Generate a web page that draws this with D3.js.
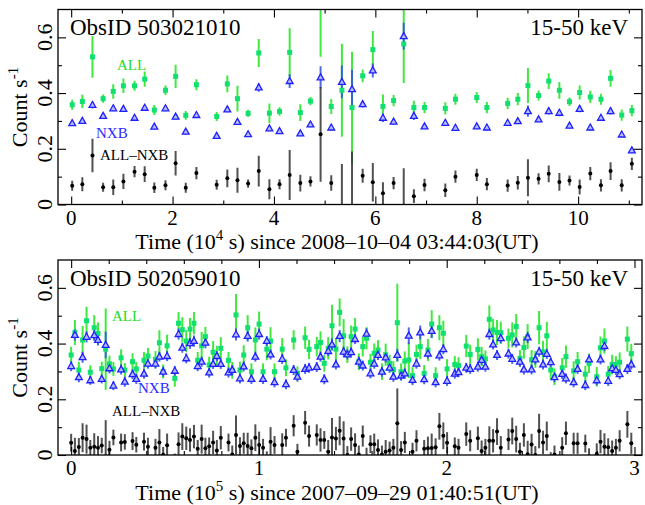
<!DOCTYPE html>
<html>
<head>
<meta charset="utf-8">
<script src="https://cdn.jsdelivr.net/npm/d3@7"></script>
<style>
  body { margin: 0; background: #fff; }
  svg { display: block; }
  text { font-family: "Liberation Serif", "Times New Roman", serif; }
</style>
</head>
<body>
<svg id="chart" width="645" height="505"></svg>
<script>
// ---------- ObsID 503021010 (time in 1e4 s) ----------
const time1 = [0.02,0.22,0.42,0.63,0.83,1.03,1.25,1.45,1.64,1.86,2.06,2.26,2.47,2.87,3.08,3.28,3.49,
  3.70,3.91,4.11,4.31,4.52,4.72,4.92,5.13,5.34,5.54,5.75,5.95,6.15,6.36,6.56,6.76,6.97,7.38,
  7.58,8.00,8.20,8.61,8.81,9.01,9.22,9.42,9.63,9.83,10.03,10.24,10.45,10.64,10.86,11.06];
const all1 = [0.358,0.37,0.53,0.38,0.406,0.426,0.426,0.45,0.339,0.41,0.46,0.32,0.43,0.316,0.433,0.38,0.327,
  0.544,0.328,0.334,0.546,0.33,0.371,0.708,0.352,0.41,0.348,0.462,0.556,0.352,0.373,0.576,0.348,0.348,0.345,
  0.378,0.384,0.348,0.363,0.378,0.427,0.391,0.443,0.41,0.369,0.402,0.386,0.378,0.453,0.321,0.337];
const allErr1 = [0.018,0.024,0.075,0.015,0.026,0.026,0.018,0.027,0.018,0.017,0.042,0.016,0.02,0.016,0.03,0.046,0.013,
  0.05,0.035,0.015,0.087,0.03,0.015,0.178,0.027,0.167,0.2,0.023,0.067,0.043,0.02,0.14,0.024,0.02,0.022,
  0.02,0.02,0.02,0.02,0.022,0.063,0.018,0.028,0.03,0.015,0.025,0.022,0.02,0.03,0.02,0.02];
const nxb1 = [0.292,0.30,0.357,0.318,0.345,0.343,0.311,0.347,0.279,0.345,0.315,0.261,0.321,0.246,0.341,0.296,0.252,
  0.42,0.273,0.263,0.443,0.255,0.287,0.456,0.276,0.44,0.414,0.36,0.481,0.311,0.297,0.604,0.318,0.28,0.293,
  0.275,0.28,0.276,0.293,0.299,0.335,0.305,0.335,0.329,0.283,0.343,0.276,0.311,0.335,0.251,0.194];
const nxbErr1 = [0.01,0.01,0.012,0.01,0.01,0.01,0.01,0.01,0.01,0.01,0.01,0.01,0.01,0.01,0.01,0.01,0.01,
  0.015,0.01,0.01,0.025,0.01,0.01,0.04,0.01,0.059,0.07,0.012,0.025,0.015,0.01,0.048,0.015,0.01,0.01,
  0.01,0.01,0.01,0.01,0.01,0.02,0.01,0.012,0.012,0.01,0.012,0.01,0.01,0.012,0.01,0.01];
const net1 = [0.067,0.073,0.176,0.062,0.062,0.083,0.118,0.109,0.06,0.069,0.148,0.06,0.113,0.071,0.094,0.087,0.075,
  0.12,0.055,0.073,0.106,0.077,0.083,0.252,0.077,-0.03,-0.066,0.103,0.08,0.04,0.077,-0.03,0.03,0.07,0.051,
  0.1,0.106,0.073,0.068,0.078,0.096,0.092,0.11,0.081,0.086,0.063,0.111,0.069,0.12,0.069,0.146];
const netErr1 = [0.018,0.025,0.06,0.016,0.028,0.027,0.02,0.028,0.019,0.018,0.044,0.018,0.022,0.018,0.032,0.045,0.015,
  0.055,0.036,0.018,0.09,0.03,0.018,0.17,0.028,0.175,0.256,0.025,0.069,0.04,0.022,0.16,0.025,0.022,0.024,
  0.022,0.022,0.022,0.022,0.024,0.066,0.02,0.03,0.032,0.018,0.027,0.024,0.022,0.032,0.022,0.022];

// ---------- ObsID 502059010 (time in 1e5 s) ----------
const time2 = [0.000,0.020,0.041,0.061,0.082,0.102,0.123,0.143,0.163,0.184,0.204,0.225,
  0.266,0.286,0.327,0.347,0.388,0.409,0.449,0.470,0.490,0.511,
  0.552,0.572,0.592,0.613,0.633,0.654,0.674,0.695,0.715,0.735,0.756,0.776,0.797,
  0.838,0.858,0.878,0.899,0.919,0.940,0.960,0.981,1.001,1.022,1.042,1.062,1.083,
  1.124,1.144,1.185,1.205,1.246,1.267,
  1.308,1.328,1.348,1.369,1.389,1.410,1.430,1.451,1.471,1.491,1.512,1.532,1.553,1.573,1.594,1.614,1.634,1.655,
  1.675,1.696,1.716,1.737,1.757,1.777,1.798,1.818,1.839,1.859,1.880,1.900,1.920,1.941,1.961,1.982,2.002,
  2.043,2.063,2.104,2.125,2.166,2.186,2.206,2.227,2.247,2.268,2.288,
  2.329,2.349,2.370,2.390,2.411,2.431,2.452,2.472,2.492,2.513,2.533,2.554,2.574,
  2.615,2.635,2.676,2.697,2.738,2.758,2.799,2.819,2.840,2.860,2.881,2.901,2.921,2.962,2.983];
const all2 = [0.359,0.44,0.305,0.413,0.482,0.297,0.457,0.436,0.31,0.38,0.327,0.309,
  0.349,0.305,0.335,0.309,0.34,0.355,0.343,0.403,0.30,0.392,
  0.275,0.473,0.45,0.409,0.452,0.473,0.34,0.392,0.425,0.323,0.369,0.357,0.383,
  0.34,0.304,0.503,0.305,0.359,0.457,0.299,0.413,0.47,0.299,0.38,0.409,0.299,
  0.38,0.313,0.413,0.293,0.421,0.379,
  0.389,0.404,0.329,0.383,0.464,0.38,0.512,0.428,0.36,0.425,0.452,0.335,0.389,0.419,0.333,0.365,0.377,0.299,
  0.36,0.329,0.307,0.475,0.299,0.337,0.341,0.285,0.361,0.389,0.293,0.377,0.47,0.285,0.457,0.437,0.309,
  0.325,0.321,0.391,0.361,0.379,0.353,0.345,0.487,0.449,0.44,0.439,
  0.419,0.431,0.461,0.347,0.386,0.425,0.342,0.343,0.457,0.37,0.428,0.305,0.281,
  0.313,0.353,0.302,0.335,0.29,0.329,0.281,0.385,0.409,0.29,0.325,0.325,0.333,0.416,0.364];
const allErr2 = [0.03,0.045,0.03,0.05,0.05,0.025,0.045,0.04,0.025,0.146,0.03,0.025,
  0.03,0.025,0.03,0.025,0.03,0.03,0.03,0.045,0.025,0.04,
  0.03,0.04,0.045,0.04,0.04,0.04,0.03,0.05,0.035,0.03,0.04,0.035,0.04,
  0.03,0.03,0.075,0.03,0.035,0.045,0.03,0.045,0.045,0.03,0.04,0.05,0.03,
  0.04,0.03,0.035,0.025,0.04,0.035,
  0.035,0.04,0.03,0.04,0.075,0.04,0.05,0.06,0.03,0.04,0.04,0.03,0.035,0.04,0.03,0.035,0.035,0.03,
  0.04,0.03,0.03,0.14,0.03,0.035,0.065,0.03,0.035,0.045,0.03,0.04,0.05,0.03,0.045,0.045,0.035,
  0.03,0.03,0.04,0.035,0.04,0.035,0.03,0.05,0.04,0.045,0.04,
  0.035,0.045,0.045,0.03,0.04,0.045,0.035,0.03,0.06,0.04,0.05,0.035,0.03,
  0.035,0.04,0.035,0.035,0.03,0.035,0.035,0.04,0.045,0.03,0.035,0.03,0.035,0.045,0.035];
const nxb2 = [0.319,0.431,0.279,0.351,0.424,0.268,0.43,0.413,0.273,0.395,0.311,0.249,
  0.307,0.263,0.29,0.273,0.292,0.328,0.328,0.353,0.299,0.355,
  0.302,0.434,0.385,0.347,0.401,0.409,0.319,0.335,0.403,0.296,0.327,0.355,0.327,
  0.296,0.305,0.433,0.275,0.318,0.427,0.273,0.353,0.434,0.273,0.409,0.361,0.261,
  0.345,0.254,0.305,0.281,0.309,0.313,
  0.316,0.353,0.272,0.373,0.397,0.325,0.427,0.371,0.361,0.369,0.416,0.335,0.321,0.435,0.293,0.328,0.359,0.299,
  0.35,0.313,0.281,0.359,0.285,0.293,0.428,0.269,0.328,0.44,0.272,0.364,0.445,0.261,0.357,0.38,0.266,
  0.292,0.297,0.313,0.309,0.317,0.341,0.317,0.434,0.397,0.359,0.419,
  0.364,0.345,0.404,0.335,0.307,0.422,0.307,0.343,0.371,0.325,0.363,0.333,0.279,
  0.291,0.275,0.261,0.309,0.251,0.343,0.268,0.343,0.391,0.266,0.311,0.305,0.29,0.309,0.325];
const nxbErr2 = [0.018,0.02,0.018,0.02,0.02,0.016,0.02,0.02,0.016,0.048,0.018,0.016,
  0.018,0.018,0.018,0.018,0.018,0.018,0.018,0.018,0.018,0.018,
  0.018,0.02,0.018,0.018,0.02,0.02,0.018,0.018,0.02,0.018,0.018,0.018,0.018,
  0.018,0.018,0.022,0.018,0.018,0.02,0.018,0.018,0.02,0.018,0.018,0.018,0.018,
  0.018,0.018,0.018,0.018,0.018,0.018,
  0.018,0.018,0.018,0.018,0.022,0.018,0.022,0.018,0.018,0.018,0.018,0.018,0.018,0.02,0.018,0.018,0.018,0.018,
  0.018,0.018,0.018,0.022,0.018,0.018,0.03,0.018,0.018,0.025,0.018,0.018,0.025,0.018,0.018,0.018,0.018,
  0.018,0.018,0.018,0.018,0.018,0.018,0.018,0.02,0.018,0.018,0.018,
  0.018,0.018,0.018,0.018,0.018,0.02,0.018,0.018,0.018,0.018,0.018,0.018,0.018,
  0.018,0.018,0.018,0.018,0.018,0.018,0.018,0.018,0.018,0.018,0.018,0.018,0.018,0.018,0.018];
const net2 = [0.044,0.014,0.029,0.062,0.057,0.026,0.03,0.026,0.034,-0.015,0.019,0.063,
  0.045,0.047,0.05,0.037,0.048,0.03,0.026,0.045,0.001,0.035,
  -0.027,0.039,0.066,0.06,0.054,0.066,0.022,0.057,0.024,0.031,0.045,0.016,0.062,
  0.045,0.002,0.072,0.032,0.042,0.032,0.024,0.062,0.036,0.026,-0.029,0.048,0.036,
  0.036,0.062,0.105,0.012,0.116,0.068,
  0.072,0.054,0.054,0.012,0.063,0.059,0.087,0.059,0.0,0.057,0.036,0.002,0.068,-0.016,0.039,0.039,0.018,0.002,
  0.012,0.016,0.026,0.114,0.018,0.045,-0.087,0.012,0.051,-0.05,0.022,0.024,0.025,0.028,0.103,0.069,0.044,
  0.031,0.026,0.075,0.051,0.06,0.014,0.026,0.051,0.051,0.084,0.026,
  0.056,0.086,0.057,0.012,0.072,0.003,0.038,0.0,0.086,0.045,0.068,-0.028,0.002,
  0.026,0.078,0.042,0.042,0.041,-0.014,0.004,0.048,0.03,0.028,0.014,0.026,0.051,0.11,0.042];
const netErr2 = [0.032,0.048,0.032,0.052,0.052,0.028,0.048,0.042,0.028,0.14,0.032,0.028,
  0.032,0.028,0.032,0.028,0.032,0.032,0.032,0.048,0.028,0.042,
  0.032,0.042,0.048,0.042,0.042,0.042,0.032,0.052,0.038,0.032,0.042,0.038,0.042,
  0.032,0.032,0.07,0.032,0.038,0.048,0.032,0.048,0.048,0.032,0.042,0.052,0.032,
  0.042,0.032,0.038,0.028,0.042,0.038,
  0.038,0.042,0.032,0.042,0.07,0.042,0.052,0.062,0.032,0.042,0.042,0.032,0.038,0.042,0.032,0.038,0.038,0.032,
  0.042,0.032,0.032,0.125,0.032,0.038,0.07,0.032,0.038,0.048,0.032,0.042,0.052,0.032,0.048,0.048,0.038,
  0.032,0.032,0.042,0.038,0.042,0.038,0.032,0.052,0.042,0.048,0.042,
  0.038,0.048,0.048,0.032,0.042,0.048,0.038,0.032,0.062,0.042,0.052,0.038,0.032,
  0.038,0.042,0.038,0.038,0.032,0.038,0.038,0.042,0.048,0.032,0.038,0.032,0.038,0.048,0.038];

// ---------- ticks ----------
const yMajor = [0, 0.2, 0.4, 0.6];
const yMinor = [0.1, 0.3, 0.5];
const xMajor1 = [0, 2, 4, 6, 8, 10];
const xMinor1 = [1, 3, 5, 7, 9, 11];
const xMajor2 = [0, 1, 2, 3];
const xMinor2 = [0.2, 0.4, 0.6, 0.8, 1.2, 1.4, 1.6, 1.8, 2.2, 2.4, 2.6, 2.8];

const panels = [
  { top: 9.5, bottom: 204.5, xDomain: [-0.26, 11.26], xMajor: xMajor1, xMinor: xMinor1,
    time: time1, all: all1, allErr: allErr1, nxb: nxb1, nxbErr: nxbErr1, net: net1, netErr: netErr1,
    obsid: "ObsID 503021010", exp: "4", start: "2008\u201310\u201304 03:44:03(UT)",
    lab: { all: [117, 70], nxb: [96, 138], net: [100, 160] } },
  { top: 260, bottom: 455, xDomain: [-0.07, 3.04], xMajor: xMajor2, xMinor: xMinor2,
    time: time2, all: all2, allErr: allErr2, nxb: nxb2, nxbErr: nxbErr2, net: net2, netErr: netErr2,
    obsid: "ObsID 502059010", exp: "5", start: "2007\u201309\u201329 01:40:51(UT)",
    lab: { all: [112, 321], nxb: [138, 393], net: [112, 416] } }
];

const svg = d3.select("#chart");
const left = 58, right = 642;
const FONT = "'Liberation Serif','Times New Roman',serif";
const C = {
  allMark: "#10e070", allBar: "#40e840", allText: "#22dd22",
  nxbStroke: "#2020ff", nxbFill: "#b4bcff", nxbBar: "#3050e0", nxbText: "#2a2aff",
  net: "#000", netBar: "#333"
};

panels.forEach((p, pi) => {
  const g = svg.append("g");
  const x = d3.scaleLinear().domain(p.xDomain).range([left, right]);
  const y = d3.scaleLinear().domain([0, 0.7]).range([p.bottom, p.top]);

  const clipId = "clip" + pi;
  g.append("clipPath").attr("id", clipId).append("rect")
    .attr("x", left).attr("y", p.top).attr("width", right - left).attr("height", p.bottom - p.top);
  const plot = g.append("g").attr("clip-path", `url(#${clipId})`);

  const idx = d3.range(p.time.length);
  const bars = (vals, errs, color, width, opacity) => {
    plot.append("g").selectAll("line").data(idx).join("line")
      .attr("x1", i => x(p.time[i])).attr("x2", i => x(p.time[i]))
      .attr("y1", i => y(vals[i] - errs[i])).attr("y2", i => y(vals[i] + errs[i]))
      .attr("stroke", color).attr("stroke-width", width).attr("stroke-opacity", opacity);
  };
  bars(p.all, p.allErr, C.allBar, 2, 1);
  bars(p.nxb, p.nxbErr, C.nxbBar, 2, 0.85);
  bars(p.net, p.netErr, C.netBar, 2, 0.85);

  // ALL: filled squares
  plot.append("g").selectAll("rect").data(idx).join("rect")
    .attr("x", i => x(p.time[i]) - 2.5).attr("y", i => y(p.all[i]) - 2.5)
    .attr("width", 5).attr("height", 5).attr("fill", C.allMark);
  // NXB: open triangles
  plot.append("g").selectAll("path").data(idx).join("path")
    .attr("transform", i => `translate(${x(p.time[i])},${y(p.nxb[i])})`)
    .attr("d", "M0,-3.6L3.4,2.4L-3.4,2.4Z")
    .attr("fill", C.nxbFill).attr("stroke", C.nxbStroke).attr("stroke-width", 1.3);
  // ALL-NXB: dots
  plot.append("g").selectAll("circle").data(idx).join("circle")
    .attr("cx", i => x(p.time[i])).attr("cy", i => y(p.net[i])).attr("r", 2)
    .attr("fill", C.net);

  // inward ticks on all four sides
  const tick = (axis, tr, vals, len) => {
    const a = g.append("g").attr("transform", tr)
      .call(axis.tickValues(vals).tickSize(-len).tickFormat(""));
    a.select(".domain").remove();
    a.selectAll("line").attr("stroke", "#000").attr("stroke-width", 1.1);
  };
  tick(d3.axisBottom(x), `translate(0,${p.bottom})`, p.xMajor, 8);
  tick(d3.axisBottom(x), `translate(0,${p.bottom})`, p.xMinor, 4);
  tick(d3.axisTop(x), `translate(0,${p.top})`, p.xMajor, 8);
  tick(d3.axisTop(x), `translate(0,${p.top})`, p.xMinor, 4);
  tick(d3.axisLeft(y), `translate(${left},0)`, yMajor, 8);
  tick(d3.axisLeft(y), `translate(${left},0)`, yMinor, 4);
  tick(d3.axisRight(y), `translate(${right},0)`, yMajor, 8);
  tick(d3.axisRight(y), `translate(${right},0)`, yMinor, 4);

  // frame
  g.append("rect").attr("x", left).attr("y", p.top)
    .attr("width", right - left).attr("height", p.bottom - p.top)
    .attr("fill", "none").attr("stroke", "#000").attr("stroke-width", 1.3);

  // x tick labels
  g.append("g").selectAll("text").data(p.xMajor).join("text")
    .attr("x", d => x(d)).attr("y", p.bottom + 20)
    .attr("text-anchor", "middle").attr("font-size", 21).attr("font-family", FONT)
    .text(d => d3.format("d")(d));

  // y tick labels, rotated
  g.append("g").selectAll("text").data(yMajor).join("text")
    .attr("transform", d => `translate(52,${y(d)}) rotate(-90)`)
    .attr("text-anchor", "middle").attr("font-size", 22).attr("font-family", FONT)
    .text(d => d === 0 ? "0" : d3.format(".1f")(d));

  // y title
  const yt = g.append("text")
    .attr("transform", `translate(27,${(p.top + p.bottom) / 2}) rotate(-90)`)
    .attr("text-anchor", "middle").attr("font-size", 22).attr("font-family", FONT);
  yt.append("tspan").text("Count s");
  yt.append("tspan").attr("dy", -9).attr("font-size", 15).text("-1");

  // x title
  const xt = g.append("text").attr("x", 337).attr("y", p.bottom + 44.5)
    .attr("text-anchor", "middle").attr("font-size", 22).attr("font-family", FONT);
  xt.append("tspan").text("Time (10");
  xt.append("tspan").attr("dy", -9).attr("font-size", 15).text(p.exp);
  xt.append("tspan").attr("dy", 9).text(" s) since " + p.start);

  // panel annotations
  g.append("text").attr("x", 70).attr("y", p.top + 25.5)
    .attr("font-size", 23).attr("font-family", FONT).text(p.obsid);
  g.append("text").attr("x", 628).attr("y", p.top + 25.5).attr("text-anchor", "end")
    .attr("font-size", 23).attr("font-family", FONT).text("15-50 keV");

  // series labels
  g.append("text").attr("x", p.lab.all[0]).attr("y", p.lab.all[1])
    .attr("font-size", 15).attr("font-family", FONT).attr("fill", C.allText).text("ALL");
  g.append("text").attr("x", p.lab.nxb[0]).attr("y", p.lab.nxb[1])
    .attr("font-size", 15).attr("font-family", FONT).attr("fill", C.nxbText).text("NXB");
  g.append("text").attr("x", p.lab.net[0]).attr("y", p.lab.net[1])
    .attr("font-size", 15).attr("font-family", FONT).attr("fill", "#000").text("ALL\u2013NXB");
});
</script>
</body>
</html>
